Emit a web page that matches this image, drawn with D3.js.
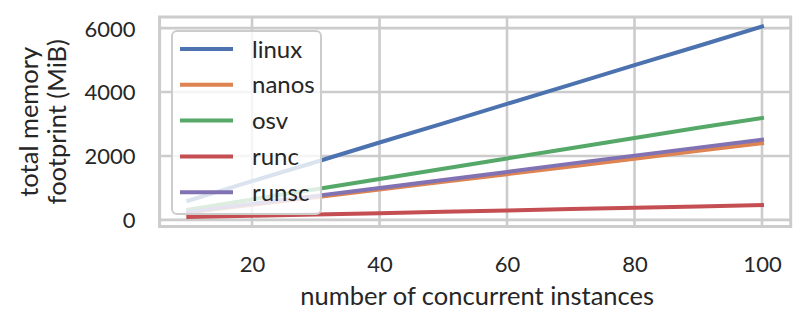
<!DOCTYPE html>
<html>
<head>
<meta charset="utf-8">
<script src="https://cdn.jsdelivr.net/npm/d3@7"></script>
<style>
    body { margin: 0; background: #fff; }
    text { font-family: Lato, "DejaVu Sans", sans-serif; fill: #262626; }
</style>
</head>
<body>
<div id="chart"></div>
<script>
/** ********************************
 *           Data
 ********************************** */

const instances = [10, 20, 30, 40, 50, 60, 70, 80, 90, 100];

const linux = [600, 1210, 1810, 2420, 3020, 3630, 4230, 4840, 5440, 6050];
const nanos = [230, 470, 710, 950, 1190, 1430, 1670, 1910, 2160, 2400];
const osv   = [320, 640, 960, 1280, 1600, 1920, 2240, 2560, 2880, 3190];
const runc  = [90, 130, 170, 210, 250, 290, 340, 380, 420, 460];
const runsc = [250, 500, 750, 1000, 1250, 1500, 1760, 2010, 2260, 2510];

const seriesNames = ["linux", "nanos", "osv", "runc", "runsc"];
const seriesValues = [linux, nanos, osv, runc, runsc];

const xTicks = [20, 40, 60, 80, 100];
const yTicks = [0, 2000, 4000, 6000];

// seaborn "deep" palette
const colors = ["#4c72b0", "#dd8452", "#55a868", "#c44e52", "#8172b3"];

/** ********************************
 *           Plot box
 ********************************** */

const W = 809, H = 328;
const box = { left: 159.6, right: 790.7, top: 17, bottom: 226.5 };
const gridColor = "#cccccc";

var svg = d3.select("#chart").append("svg")
    .attr("width", W)
    .attr("height", H);

// matplotlib style 5% margins around the data
function padded(lo, hi) {
    let pad = (hi - lo) * 0.05;
    return [lo - pad, hi + pad];
}

let allValues = seriesValues.flat();
var xScale = d3.scaleLinear()
    .domain(padded(d3.min(instances), d3.max(instances)))
    .range([box.left, box.right]);
var yScale = d3.scaleLinear()
    .domain(padded(d3.min(allValues), d3.max(allValues)))
    .range([box.bottom, box.top]);

// Grid lines
let grid = svg.append("g").attr("stroke", gridColor).attr("stroke-width", 2.6);
grid.selectAll("line.gx")
    .data(xTicks)
    .join("line")
        .attr("class", "gx")
        .attr("x1", d => xScale(d)).attr("x2", d => xScale(d))
        .attr("y1", box.top).attr("y2", box.bottom);
grid.selectAll("line.gy")
    .data(yTicks)
    .join("line")
        .attr("class", "gy")
        .attr("x1", box.left).attr("x2", box.right)
        .attr("y1", d => yScale(d)).attr("y2", d => yScale(d));

// Axes (only labels, seaborn whitegrid has no tick marks)
let xAxis = svg.append("g")
    .attr("transform", `translate(0, ${box.bottom})`)
    .call(d3.axisBottom(xScale).tickValues(xTicks).tickSize(0).tickPadding(0));
xAxis.select(".domain").remove();
xAxis.selectAll("text")
    .attr("y", 45)
    .attr("dy", null)
    .style("font-size", "22px")
    .attr("fill", "#262626");

let yAxis = svg.append("g")
    .attr("transform", `translate(${box.left}, 0)`)
    .call(d3.axisLeft(yScale).tickValues(yTicks).tickFormat(d3.format("d")).tickSize(0).tickPadding(0));
yAxis.select(".domain").remove();
yAxis.selectAll("text")
    .attr("x", -24)
    .attr("dy", "0.36em")
    .style("font-size", "22px")
    .attr("fill", "#262626");

// Series lines
let line = d3.line()
    .x((_, i) => xScale(instances[i]))
    .y(d => yScale(d));

svg.append("g").selectAll("path")
    .data(seriesValues)
    .join("path")
        .attr("d", line)
        .attr("fill", "none")
        .attr("stroke", (_, i) => colors[i])
        .attr("stroke-width", 4)
        .attr("stroke-linecap", "square");

// Frame
svg.append("rect")
    .attr("x", box.left).attr("y", box.top)
    .attr("width", box.right - box.left)
    .attr("height", box.bottom - box.top)
    .attr("fill", "none")
    .attr("stroke", gridColor)
    .attr("stroke-width", 3);

// Axis labels
svg.append("text")
    .attr("x", (box.left + box.right) / 2 + 2)
    .attr("y", 305)
    .attr("text-anchor", "middle")
    .style("font-size", "25.5px")
    .text("number of concurrent instances");

let yLab = svg.append("text")
    .attr("transform", `translate(0, ${(box.top + box.bottom) / 2}) rotate(-90)`)
    .attr("text-anchor", "middle")
    .style("font-size", "25.5px");
yLab.append("tspan").attr("x", 0).attr("y", 38).text("total memory");
yLab.append("tspan").attr("x", 0).attr("y", 66).text("footprint (MiB)");

// Legend
let legend = svg.append("g");
legend.append("rect")
    .attr("x", 172).attr("y", 31)
    .attr("width", 149).attr("height", 183)
    .attr("rx", 5)
    .attr("fill", "white").attr("fill-opacity", 0.8)
    .attr("stroke", gridColor).attr("stroke-width", 2);

let items = legend.selectAll("g.item")
    .data(seriesNames)
    .join("g")
        .attr("class", "item")
        .attr("transform", (_, i) => `translate(180, ${49 + i * 35.8})`);
items.append("line")
    .attr("x1", 0).attr("x2", 53)
    .attr("stroke", (_, i) => colors[i])
    .attr("stroke-width", 4);
items.append("text")
    .attr("x", 72)
    .attr("dy", "0.36em")
    .style("font-size", "24px")
    .text(d => d);
</script>
</body>
</html>
